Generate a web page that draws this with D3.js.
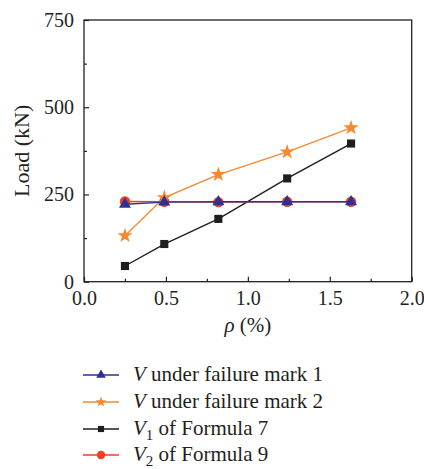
<!DOCTYPE html>
<html lang="en">
<head>
    <meta charset="UTF-8">
    <title>Load vs reinforcement ratio</title>
    <script src="https://cdn.jsdelivr.net/npm/d3@7"></script>
    <style>
        body { margin: 0; background: #fff; }
        svg text { font-family: "Liberation Serif", "DejaVu Serif", serif; fill: #231f20; }
    </style>
</head>
<body>
    <main></main>

    <script>
        // values
        var rho = [0.25, 0.49, 0.82, 1.24, 1.63];
        var vMark1 = [222, 228, 229, 229, 229];
        var vMark2 = [132, 241, 307, 372, 441];
        var v1Formula7 = [45, 108, 180, 296, 396];
        var v2Formula9 = [230, 229, 228, 229, 229];

        var xTicks = [0, 0.5, 1.0, 1.5, 2.0];
        var xMinorTicks = [0.25, 0.75, 1.25, 1.75];
        var yTicks = [0, 250, 500, 750];
        var yMinorTicks = [125, 375, 625];

        var series = [
            { name: 'V1', values: v1Formula7, color: '#1e1e1e', symbol: d3.symbolSquare, size: 66, legendSize: 38 },
            { name: 'V2', values: v2Formula9, color: '#ec4125', symbol: d3.symbolCircle, size: 85, legendSize: 56 },
            { name: 'mark2', values: vMark2, color: '#f6892f', symbol: d3.symbolStar, size: 72, legendSize: 36 },
            { name: 'mark1', values: vMark1, color: '#2e3092', symbol: d3.symbolTriangle, size: 62, legendSize: 40 }
        ];

        var legendOrder = ['mark1', 'mark2', 'V1', 'V2'];

        var width = 424, height = 469;
        var plotLeft = 84, plotRight = 411.7, plotTop = 20, plotBottom = 281.7;

        var svg = d3.select('main')
            .append('svg')
            .attr('width', width)
            .attr('height', height);

        var x = d3.scaleLinear().domain([0, 2]).range([plotLeft, plotRight]);
        var y = d3.scaleLinear().domain([0, 750]).range([plotBottom, plotTop]);

        // axes with inward ticks
        svg.append('g')
            .attr('transform', `translate(0, ${plotBottom})`)
            .call(d3.axisBottom(x).tickValues(xTicks).tickFormat(d3.format('.1f'))
                .tickSizeInner(-5).tickSizeOuter(0).tickPadding(9));

        svg.append('g')
            .attr('transform', `translate(0, ${plotBottom})`)
            .call(d3.axisBottom(x).tickValues(xMinorTicks).tickFormat('')
                .tickSizeInner(-3).tickSizeOuter(0));

        svg.append('g')
            .attr('transform', `translate(${plotLeft}, 0)`)
            .call(d3.axisLeft(y).tickValues(yTicks)
                .tickSizeInner(-5).tickSizeOuter(0).tickPadding(10));

        svg.append('g')
            .attr('transform', `translate(${plotLeft}, 0)`)
            .call(d3.axisLeft(y).tickValues(yMinorTicks).tickFormat('')
                .tickSizeInner(-3).tickSizeOuter(0));

        svg.selectAll('.domain').remove();
        svg.selectAll('.tick line').attr('stroke', '#231f20').attr('stroke-width', 1.2);
        svg.selectAll('.tick text').style('font-size', '20px').attr('fill', '#231f20');

        // frame
        svg.append('rect')
            .attr('x', plotLeft)
            .attr('y', plotTop)
            .attr('width', plotRight - plotLeft)
            .attr('height', plotBottom - plotTop)
            .attr('fill', 'none')
            .attr('stroke', '#231f20')
            .attr('stroke-width', 1.3);

        svg.append('text')
            .attr('transform', `translate(29, ${(plotTop + plotBottom) / 2}) rotate(-90)`)
            .attr('text-anchor', 'middle')
            .style('font-size', '22px')
            .text('Load (kN)');

        var xLabel = svg.append('text')
            .attr('x', (plotLeft + plotRight) / 2)
            .attr('y', 332)
            .attr('text-anchor', 'middle')
            .style('font-size', '21px');
        xLabel.append('tspan').attr('font-style', 'italic').text('ρ');
        xLabel.append('tspan').text(' (%)');

        // lines and markers
        var line = d3.line()
            .x((d, i) => x(rho[i]))
            .y(d => y(d));

        series.forEach(function (s) {
            svg.append('path')
                .datum(s.values)
                .attr('d', line)
                .attr('fill', 'none')
                .attr('stroke', s.color)
                .attr('stroke-width', 1.4);

            svg.append('g')
                .selectAll('path')
                .data(s.values)
                .enter()
                .append('path')
                .attr('transform', (d, i) => `translate(${x(rho[i])}, ${y(d)})`)
                .attr('d', d3.symbol().type(s.symbol).size(s.size))
                .attr('fill', s.color);
        });

        // legend
        var legendY = [375, 402, 429, 455];
        var legend = svg.append('g');

        legendOrder.forEach(function (key, i) {
            var s = series.find(item => item.name == key);
            var ly = legendY[i];
            legend.append('line')
                .attr('x1', 83).attr('x2', 119)
                .attr('y1', ly).attr('y2', ly)
                .attr('stroke', s.color)
                .attr('stroke-width', 1.4);
            legend.append('path')
                .attr('transform', `translate(101, ${ly})`)
                .attr('d', d3.symbol().type(s.symbol).size(s.legendSize))
                .attr('fill', s.color);

            var t = legend.append('text')
                .attr('x', 133)
                .attr('y', ly + 6)
                .style('font-size', '21px');
            t.append('tspan').attr('font-style', 'italic').text('V');
            if (key == 'mark1' || key == 'mark2') {
                t.append('tspan').text(' under failure mark ' + (key == 'mark1' ? '1' : '2'));
            } else {
                t.append('tspan').attr('dy', 5).style('font-size', '15px').text(key == 'V1' ? '1' : '2');
                t.append('tspan').attr('dy', -5).text(' of Formula ' + (key == 'V1' ? '7' : '9'));
            }
        });
    </script>
</body>
</html>
